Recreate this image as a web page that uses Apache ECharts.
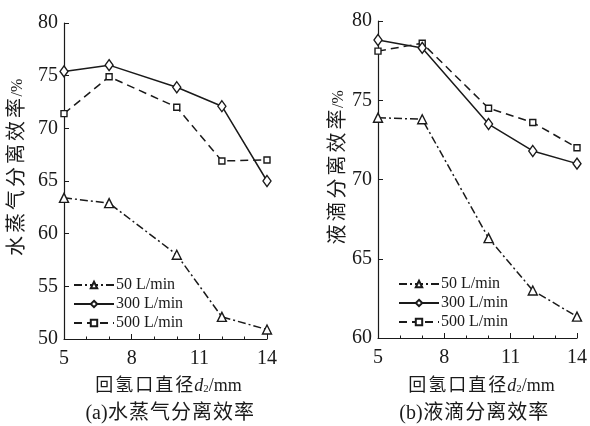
<!DOCTYPE html>
<html>
<head>
<meta charset="utf-8">
<script src="https://cdn.jsdelivr.net/npm/echarts@6/dist/echarts.min.js"></script>
<style>html,body{margin:0;padding:0;background:#fff;}#c{width:590px;height:426px;}</style>
</head>
<body>
<div id="c"></div>
<script>
var diameters = [5, 7, 10, 12, 14];
var seriesNames = ['50 L/min', '300 L/min', '500 L/min'];
// (a) water vapour separation efficiency, %
var vapor50 = [63.4, 62.9, 58.0, 52.1, 50.9];
var vapor300 = [75.4, 76.0, 73.9, 72.1, 65.0];
var vapor500 = [71.4, 74.9, 72.0, 66.9, 67.0];
// (b) droplet separation efficiency, %
var drop50 = [73.9, 73.8, 66.3, 63.0, 61.35];
var drop300 = [78.8, 78.3, 73.5, 71.8, 71.0];
var drop500 = [78.1, 78.6, 74.5, 73.6, 72.0];
var xTicks = [5, 8, 11, 14];
var yTicksA = [50, 55, 60, 65, 70, 75, 80];
var yTicksB = [60, 65, 70, 75, 80];

var FONT = "'Liberation Serif', 'Noto Sans CJK SC', serif";
var INK = '#1a1a1a';

function pairs(xs, ys) { return xs.map(function (x, i) { return [x, ys[i]]; }); }

var styles = [
  { symbol: 'triangle', symbolSize: 9, lineType: [8, 3, 2, 3] },
  { symbol: 'diamond', symbolSize: [8, 11], lineType: 'solid' },
  { symbol: 'rect', symbolSize: 6, lineType: [8, 5] }
];

function mkSeries(name, idx, gi, data) {
  var s = styles[idx];
  return {
    name: name, type: 'line', xAxisIndex: gi, yAxisIndex: gi,
    data: pairs(diameters, data),
    symbol: s.symbol, symbolSize: s.symbolSize, showSymbol: true,
    itemStyle: { color: '#fff', borderColor: INK, borderWidth: 1.4 },
    lineStyle: { color: INK, width: 1.5, type: s.lineType },
    emphasis: { disabled: true }, animation: false, z: 3 - idx + 2
  };
}

function xAxis(gi) {
  return {
    type: 'value', gridIndex: gi, min: xTicks[0], max: xTicks[xTicks.length - 1], interval: 3,
    axisLine: { lineStyle: { color: INK, width: 1.2 } },
    axisTick: { inside: true, length: 5, lineStyle: { color: INK } },
    minorTick: { show: true, splitNumber: 3, length: 2.5, lineStyle: { color: INK } },
    axisLabel: { color: INK, fontFamily: FONT, fontSize: 20, margin: 10 },
    splitLine: { show: false }
  };
}
function yAxis(gi, min, max) {
  return {
    type: 'value', gridIndex: gi, min: min, max: max, interval: 5,
    axisLine: { show: true, lineStyle: { color: INK, width: 1.2 } },
    axisTick: { show: true, inside: true, length: 5, lineStyle: { color: INK } },
    axisLabel: { color: INK, fontFamily: FONT, fontSize: 20, margin: 6 },
    splitLine: { show: false }
  };
}
function legend(left, top) {
  return {
    orient: 'vertical', left: left, top: top, data: seriesNames,
    itemWidth: 40, itemHeight: 8, itemGap: 3,
    textStyle: { color: INK, fontFamily: FONT, fontSize: 16, padding: [0, 0, 0, -3] },
    selectedMode: false
  };
}
var rich = function (size, cw) {
  return {
    c: { fontSize: size, fontFamily: FONT, fill: INK, width: cw, align: 'center' },
    i: { fontStyle: 'italic', fontSize: size, fontFamily: FONT, fill: INK },
    s: { fontSize: size * 0.6, fontFamily: FONT, fill: INK, padding: [7, 0, 0, 0] },
    p: { fontSize: size * 0.8, fontFamily: FONT, fill: INK },
    t: { fontSize: size, fontFamily: FONT, fill: INK }
  };
};
function cjk(str) {
  return str.split('').map(function (ch) { return '{c|' + ch + '}'; }).join('');
}
function txt(x, y, text, size, cw, rot) {
  return {
    type: 'text', x: x, y: y, rotation: rot || 0,
    style: {
      text: text, fill: INK, font: size + 'px ' + FONT,
      align: 'center', verticalAlign: 'middle',
      rich: rich(size, cw)
    }
  };
}

var chart = echarts.init(document.getElementById('c'), null, { renderer: 'canvas' });
chart.setOption({
  animation: false,
  backgroundColor: '#fff',
  grid: [
    { left: 64, top: 23, width: 203, height: 316 },
    { left: 378, top: 21, width: 201, height: 317 }
  ],
  xAxis: [xAxis(0), xAxis(1)],
  yAxis: [yAxis(0, yTicksA[0], yTicksA[yTicksA.length - 1]), yAxis(1, yTicksB[0], yTicksB[yTicksB.length - 1])],
  legend: [legend(68, 272), legend(393, 271)],
  series: [
    mkSeries(seriesNames[0], 0, 0, vapor50),
    mkSeries(seriesNames[1], 1, 0, vapor300),
    mkSeries(seriesNames[2], 2, 0, vapor500),
    mkSeries(seriesNames[0], 0, 1, drop50),
    mkSeries(seriesNames[1], 1, 1, drop300),
    mkSeries(seriesNames[2], 2, 1, drop500)
  ],
  graphic: [
    txt(18, 168, cjk('水蒸气分离效率') + '{p|/%}', 20, 23, Math.PI / 2),
    txt(339, 168, cjk('液滴分离效率') + '{p|/%}', 20, 23, Math.PI / 2),
    txt(168, 386, cjk('回氢口直径') + '{i|d}{s|2}{t|/mm}', 18, 20),
    txt(481, 386, cjk('回氢口直径') + '{i|d}{s|2}{t|/mm}', 18, 20),
    txt(170, 414, '{t|(a)}' + cjk('水蒸气分离效率'), 20, 21),
    txt(474, 414, '{t|(b)}' + cjk('液滴分离效率'), 20, 21)
  ]
});
</script>
</body>
</html>
